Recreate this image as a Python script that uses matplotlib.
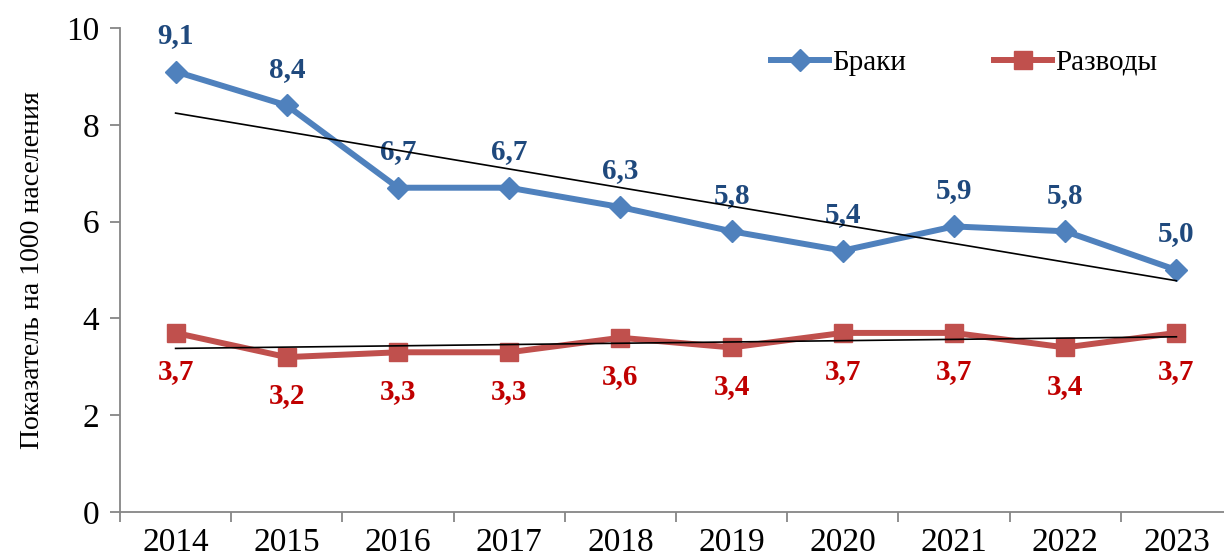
import numpy as np
import matplotlib
matplotlib.use("Agg")
import matplotlib.pyplot as plt

plt.rcParams['font.family'] = ['Liberation Serif', 'DejaVu Serif']

years = ['2014', '2015', '2016', '2017', '2018', '2019', '2020', '2021', '2022', '2023']
marriages = [9.1, 8.4, 6.7, 6.7, 6.3, 5.8, 5.4, 5.9, 5.8, 5.0]
divorces = [3.7, 3.2, 3.3, 3.3, 3.6, 3.4, 3.7, 3.7, 3.4, 3.7]

x = np.arange(len(years))

fig = plt.figure(figsize=(12.24, 5.57), dpi=100)
ax = fig.add_axes([120 / 1224, 45 / 557, 1112 / 1224, 484 / 557])

ax.plot(x, marriages, color='#4F81BD', lw=4.3, marker='D', ms=11, label='Браки', zorder=3)
ax.plot(x, divorces, color='#C0504D', lw=4.3, marker='s', ms=13, label='Разводы', zorder=3)

# linear trend lines
for ys in (marriages, divorces):
    k, b = np.polyfit(x, ys, 1)
    ax.plot(x, k * x + b, color='black', lw=1.2, zorder=4)

for xi, v in zip(x, marriages):
    ax.annotate(f'{v:.1f}'.replace('.', ','), (xi, v), xytext=(0, 26), textcoords='offset points',
                ha='center', va='center', fontsize=21, fontweight='bold', color='#1F497D')
for xi, v in zip(x, divorces):
    ax.annotate(f'{v:.1f}'.replace('.', ','), (xi, v), xytext=(0, -28), textcoords='offset points',
                ha='center', va='center', fontsize=21, fontweight='bold', color='#C00000')

ax.set_xlim(-0.5, len(years) - 0.5)
ax.set_ylim(0, 10)
ax.set_yticks([0, 2, 4, 6, 8, 10])
ax.set_xticks(x)
ax.set_xticklabels(years)
ax.set_xticks(np.arange(-0.5, len(years), 1), minor=True)
ax.tick_params(axis='x', which='major', length=0, labelsize=24, pad=11)
ax.tick_params(axis='x', which='minor', length=7, color='#868686', width=1.3)
ax.tick_params(axis='y', length=7, color='#868686', width=1.3, labelsize=24, pad=8)

for s in ('top', 'right'):
    ax.spines[s].set_visible(False)
for s in ('left', 'bottom'):
    ax.spines[s].set_color('#868686')
    ax.spines[s].set_linewidth(1.3)

ax.set_ylabel('Показатель на 1000 населения', fontsize=20, labelpad=15)

ax.legend(loc='upper right', bbox_to_anchor=(0.956, 1.01), ncol=2, frameon=False,
          fontsize=21, handlelength=2.0, columnspacing=3.0, handletextpad=0.1)

fig.savefig('out.png', dpi=100)
